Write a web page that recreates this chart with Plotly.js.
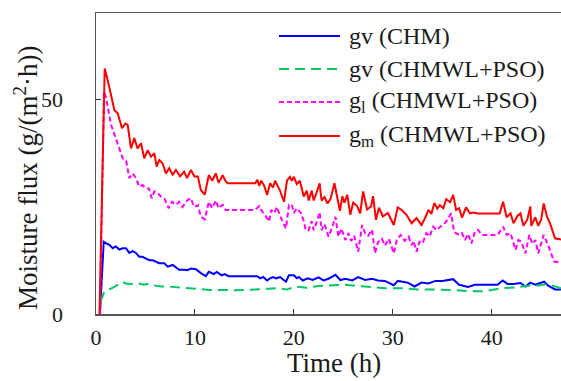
<!DOCTYPE html>
<html>
<head>
<meta charset="utf-8">
<script src="https://cdn.plot.ly/plotly-3.0.1.min.js"></script>
<style>html,body{margin:0;padding:0;background:#fff;}#chart{width:561px;height:381px;}</style>
</head>
<body>
<div id="chart"></div>
<script>
// gm (CHMWL+PSO)
var gmTime = [
  0.35, 0.88, 1.18, 1.52, 1.86, 2.19, 2.63, 2.97, 3.2, 3.54,
  3.87, 4.2, 4.55, 4.88, 5.22, 5.56, 5.9, 6.13, 6.4, 6.74,
  7.07, 7.4, 7.75, 8.08, 8.5, 8.9, 9.2, 9.6, 9.95, 10.3,
  10.6, 11.0, 11.4, 11.75, 12.1, 12.4, 12.8, 13.1, 13.3, 16.1,
  16.3, 16.5, 16.7, 17.0, 17.3, 17.6, 17.9, 18.1, 18.3, 18.6,
  19.0, 19.3, 19.6, 19.8, 20.0, 20.3, 20.6, 21.0, 21.3, 21.5,
  21.8, 22.0, 22.3, 22.6, 22.8, 23.1, 23.4, 23.7, 24.1, 24.4,
  24.65, 24.9, 25.1, 25.4, 25.7, 26.0, 26.4, 26.7, 27.0, 27.4,
  27.8, 28.0, 28.3, 28.6, 29.0, 29.5, 30.1, 30.5, 30.9, 31.4,
  31.9, 32.4, 32.9, 33.3, 33.6, 33.9, 34.2, 34.5, 34.75, 35.1,
  35.4, 35.8, 36.1, 36.4, 36.7, 37.0, 37.4, 37.8, 38.2, 38.6,
  40.8, 41.15, 41.5, 41.9, 42.2, 42.6, 42.9, 43.2, 43.6, 43.9,
  44.0, 44.4, 44.7, 45.0, 45.25, 45.6, 45.9, 46.4, 47.0
];
var gmFlux = [
  0, 57.1, 54.4, 50.5, 47.4, 46.7, 43.2, 44.3, 44.0, 38.5,
  40.9, 38.5, 39.7, 36.2, 38.1, 36.6, 37.4, 34.3, 35.8, 35.0,
  32.7, 33.9, 32.4, 33.5, 32.0, 33.1, 31.6, 33.5, 32.0, 32.0,
  28.8, 27.8, 32.3, 31.0, 32.7, 30.5, 32.3, 30.9, 30.4, 30.4,
  31.2, 29.8, 31.0, 29.8, 27.7, 30.4, 29.4, 31.0, 30.2, 28.7,
  26.1, 31.0, 31.9, 31.0, 31.9, 30.2, 31.0, 27.3, 28.7, 26.4,
  28.7, 26.4, 28.3, 30.4, 26.4, 27.2, 25.7, 26.7, 30.4, 26.4,
  24.0, 27.4, 25.9, 27.7, 23.1, 25.9, 25.1, 23.4, 28.5, 24.3,
  25.0, 27.4, 21.9, 24.7, 22.7, 23.5, 20.7, 24.8, 24.2, 23.0,
  21.1, 22.3, 20.7, 22.5, 24.2, 23.3, 25.8, 24.5, 25.3, 24.6,
  26.7, 26.0, 27.7, 24.2, 24.6, 22.4, 24.8, 23.4, 23.6, 23.4,
  23.4, 26.1, 22.5, 23.4, 21.1, 22.8, 23.4, 20.5, 22.0, 25.0,
  20.5, 22.5, 20.5, 22.0, 25.7, 22.5, 21.0, 17.6, 17.3
];

// gl (CHMWL+PSO)
var glTime = [
  0.4, 0.8, 1.0, 1.18, 1.52, 1.75, 2.02, 2.36, 2.7, 3.03,
  3.37, 3.7, 4.04, 4.38, 4.7, 5.05, 5.35, 5.63, 5.9, 6.24,
  6.57, 6.9, 7.34, 7.68, 8.08, 8.4, 8.75, 9.25, 9.6, 9.9,
  10.3, 10.6, 11.0, 11.4, 11.75, 12.1, 12.4, 12.8, 13.1, 16.1,
  16.5, 16.8, 17.1, 17.5, 17.7, 18.0, 18.3, 18.6, 19.2, 19.5,
  19.8, 20.0, 20.3, 20.7, 21.0, 21.2, 21.5, 21.8, 22.0, 22.3,
  22.6, 22.8, 23.1, 23.5, 23.9, 24.2, 24.5, 24.8, 25.2, 25.5,
  25.8, 26.1, 26.5, 26.9, 27.2, 27.5, 27.9, 28.2, 28.5, 28.9,
  29.2, 29.6, 30.1, 30.4, 30.8, 31.2, 31.6, 31.9, 32.1, 32.4,
  32.7, 33.0, 33.4, 33.7, 34.1, 34.4, 34.8, 35.1, 35.4, 35.9,
  36.2, 36.7, 37.0, 37.3, 37.6, 37.95, 38.3, 38.6, 39.0, 40.6,
  41.15, 41.5, 41.9, 42.4, 42.7, 43.0, 43.4, 43.8, 44.1, 44.4,
  44.7, 45.25, 45.7, 46.3, 47.0
];
var glFlux = [
  0, 51.7, 50.5, 48.2, 44.0, 42.5, 40.5, 38.5, 36.2, 35.8,
  31.6, 32.7, 31.6, 29.6, 30.0, 29.2, 29.2, 26.9, 28.5, 28.1,
  27.3, 26.9, 24.6, 26.1, 25.4, 26.1, 24.9, 26.5, 26.9, 24.9,
  25.3, 22.6, 22.0, 26.1, 24.6, 26.4, 24.6, 25.4, 24.2, 24.2,
  25.1, 23.8, 23.0, 21.5, 24.2, 23.5, 24.9, 22.8, 19.9, 25.4,
  25.4, 23.5, 24.6, 23.5, 21.6, 19.5, 19.5, 21.6, 19.5, 21.3,
  23.7, 19.5, 20.9, 18.0, 20.4, 22.6, 18.0, 19.9, 17.2, 18.8,
  17.0, 18.2, 14.5, 20.7, 18.8, 18.2, 19.6, 14.1, 16.7, 17.5,
  15.9, 17.5, 14.1, 17.2, 18.4, 17.0, 18.0, 16.0, 17.0, 14.5,
  16.8, 16.4, 18.8, 18.0, 20.3, 19.5, 20.3, 20.7, 21.5, 23.4,
  19.0, 18.4, 18.8, 17.2, 18.6, 16.4, 19.2, 19.6, 18.4, 18.4,
  20.3, 18.4, 18.8, 14.9, 17.2, 16.8, 14.1, 18.4, 16.3, 17.2,
  14.1, 18.4, 16.0, 12.2, 11.9
];

// gv (CHM)
var gvChmTime = [
  0.4, 0.78, 1.0, 1.35, 1.69, 2.0, 2.36, 2.7, 3.03, 3.37,
  3.7, 4.04, 4.38, 4.7, 5.05, 5.4, 5.73, 6.07, 6.4, 6.9,
  7.25, 7.75, 8.4, 8.9, 9.26, 9.6, 10.1, 10.6, 11.1, 11.4,
  11.9, 12.2, 12.7, 13.0, 13.4, 16.3, 16.6, 16.9, 17.3, 17.6,
  17.9, 18.2, 18.6, 19.2, 19.5, 20.0, 20.3, 20.5, 20.9, 21.4,
  21.9, 22.5, 23.0, 23.5, 24.2, 24.7, 25.2, 25.9, 26.5, 27.2,
  27.9, 28.5, 29.2, 30.1, 30.5, 31.5, 32.2, 32.9, 33.6, 34.3,
  35.0, 36.1, 36.7, 37.6, 38.3, 40.6, 41.1, 41.6, 42.2, 42.9,
  43.4, 43.9, 44.4, 44.9, 45.3, 45.7, 46.4, 47.0
];
var gvChmFlux = [
  0, 16.8, 16.5, 16.1, 15.3, 15.7, 15.0, 15.3, 15.3, 14.2,
  14.6, 14.2, 13.3, 13.3, 12.9, 12.5, 12.5, 12.1, 11.8, 11.8,
  11.0, 11.4, 10.3, 10.3, 10.2, 10.6, 10.4, 9.5, 8.8, 9.8,
  9.3, 9.8, 9.0, 9.3, 8.8, 8.8, 8.3, 8.6, 7.8, 8.3,
  8.6, 8.3, 8.6, 7.5, 9.0, 9.0, 8.3, 8.6, 7.8, 8.3,
  7.9, 8.5, 7.8, 8.2, 9.1, 7.9, 8.2, 7.8, 8.6, 7.9,
  8.2, 7.8, 7.7, 6.7, 7.7, 7.3, 6.4, 7.3, 7.1, 7.7,
  7.7, 8.1, 6.8, 6.3, 6.8, 6.8, 7.8, 7.0, 7.0, 7.2,
  6.4, 7.3, 6.8, 7.2, 7.5, 6.6, 5.7, 5.7
];

// gv (CHMWL+PSO)
var gvPsoTime = [
  0.45, 0.85, 1.3, 2.0, 2.7, 3.0, 3.6, 4.3, 4.8, 5.4,
  6.0, 6.6, 7.3, 8.2, 9.2, 10.2, 10.6, 11.5, 12.8, 14.1,
  15.4, 16.8, 17.5, 18.2, 19.3, 20.2, 21.3, 22.5, 23.9, 25.2,
  26.5, 27.8, 29.2, 30.9, 32.5, 34.2, 35.9, 37.6, 39.2, 41.0,
  42.4, 43.9, 44.8, 45.6, 46.4, 47.0
];
var gvPsoFlux = [
  2.9, 5.2, 5.7, 6.5, 7.5, 7.1, 7.0, 7.1, 6.8, 7.1,
  6.6, 6.4, 6.4, 6.2, 6.1, 5.9, 5.7, 5.6, 5.6, 5.5,
  5.6, 5.7, 5.9, 6.0, 5.7, 6.4, 6.1, 6.5, 6.6, 6.8,
  6.5, 6.2, 6.0, 6.0, 5.7, 5.7, 5.6, 5.3, 5.3, 6.0,
  6.2, 6.6, 6.6, 7.0, 6.5, 6.0
];

var seriesNames = ['gv (CHM)', 'gv (CHMWL+PSO)', 'g<sub>l</sub> (CHMWL+PSO)', 'g<sub>m</sub> (CHMWL+PSO)'];
var seriesColors = ['#0000ff', '#00c864', '#ff00ff', '#ff0000'];
var seriesDash = ['solid', '10px,6px', '5px,3px', 'solid'];
var xTickVals = [0, 10, 20, 30, 40];
var yTickVals = [0, 50];
var xTitle = 'Time (h)';
var yTitle = 'Moisture flux (g/(m<sup>2</sup>·h))';

var xs = [gvChmTime, gvPsoTime, glTime, gmTime];
var ys = [gvChmFlux, gvPsoFlux, glFlux, gmFlux];
var traces = xs.map(function (x, i) {
  return {x: x, y: ys[i], name: seriesNames[i], mode: 'lines', showlegend: false,
          line: {color: seriesColors[i], width: 2, dash: seriesDash[i]}};
});

var fontFam = 'Liberation Serif, Times New Roman, serif';

// hand-built legend (line samples + labels) in paper coordinates
var legRowY = [36, 69, 102, 136];   // pixel rows of the legend entries
var plotTop = 13, plotH = 301, plotL = 96, plotW = 465;
var shapes = [], annotations = [];
legRowY.forEach(function (py, i) {
  var yp = (plotTop + plotH - py) / plotH;
  shapes.push({type: 'line', xref: 'paper', yref: 'paper',
    x0: (279 - plotL) / plotW, x1: (340 - plotL) / plotW, y0: yp, y1: yp,
    line: {color: seriesColors[i], width: 2, dash: seriesDash[i]}});
  annotations.push({xref: 'paper', yref: 'paper', x: (347 - plotL) / plotW, y: yp,
    xanchor: 'left', yanchor: 'middle', showarrow: false, text: seriesNames[i],
    font: {family: fontFam, size: 24, color: '#1a1a1a'}});
});
// axis titles placed as in the reference
annotations.push({xref: 'paper', yref: 'paper', x: (334 - plotL) / plotW,
  y: (plotTop + plotH - 363) / plotH, xanchor: 'center', yanchor: 'middle',
  showarrow: false, text: xTitle, font: {family: fontFam, size: 27, color: '#1a1a1a'}});
annotations.push({xref: 'paper', yref: 'paper', x: (26 - plotL) / plotW,
  y: (plotTop + plotH - 178) / plotH, xanchor: 'center', yanchor: 'middle', textangle: -90,
  showarrow: false, text: yTitle, font: {family: fontFam, size: 27, color: '#1a1a1a'}});

var layout = {
  width: 561, height: 381,
  margin: {l: 96, r: 0, t: 13, b: 67},
  paper_bgcolor: '#ffffff', plot_bgcolor: '#ffffff',
  font: {family: fontFam, color: '#1a1a1a', size: 22},
  showlegend: false,
  shapes: shapes,
  annotations: annotations,
  xaxis: {
    range: [0, 47], tickvals: xTickVals, ticks: 'inside', ticklen: 5, tickwidth: 1,
    tickcolor: '#333', showline: true, linecolor: '#555', linewidth: 1.5, mirror: true,
    showgrid: false, zeroline: false, tickfont: {size: 22, family: fontFam},
    ticklabelstandoff: 3
  },
  yaxis: {
    range: [0, 70], tickvals: yTickVals, ticks: 'inside', ticklen: 5, tickwidth: 1,
    tickcolor: '#333', showline: true, linecolor: '#555', linewidth: 1.5, mirror: true,
    showgrid: false, zeroline: false, tickfont: {size: 22, family: fontFam},
    ticklabelstandoff: 27
  }
};

Plotly.newPlot('chart', traces, layout, {staticPlot: true, displayModeBar: false});
</script>
</body>
</html>
